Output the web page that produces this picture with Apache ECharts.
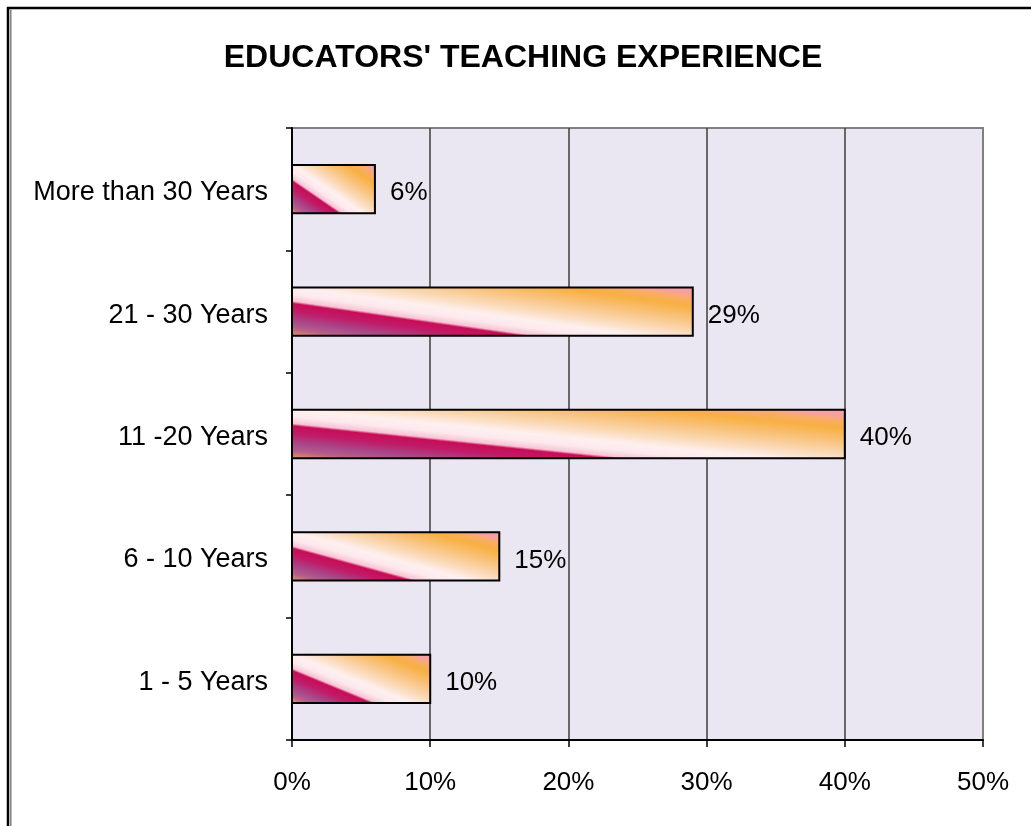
<!DOCTYPE html>
<html>
<head>
<meta charset="utf-8">
<script src="https://cdn.jsdelivr.net/npm/echarts@6/dist/echarts.min.js"></script>
<style>
  html, body { margin: 0; padding: 0; background: #fff; }
  #chart { width: 1031px; height: 826px; }
</style>
</head>
<body>
<div id="chart"></div>
<script>
// data
const chartTitle = "EDUCATORS' TEACHING EXPERIENCE";
const categories = ['1 - 5 Years', '6 - 10 Years', '11 -20 Years', '21 - 30 Years', 'More than 30 Years'];
const percentages = [10, 15, 40, 29, 6];
const axisMin = 0;
const axisMax = 50;
const tickStep = 10;

const FONT = '"Liberation Sans", Arial, sans-serif';

// "fire" style fill, diagonal from bottom-left to top-right of each bar
const barFill = new echarts.graphic.LinearGradient(0, 1, 1, 0.15, [
  { offset: 0, color: '#E29A58' },
  { offset: 0.07, color: '#B8608A' },
  { offset: 0.15, color: '#A8488A' },
  { offset: 0.25, color: '#C01C68' },
  { offset: 0.33, color: '#C80C58' },
  { offset: 0.355, color: '#F8C4D4' },
  { offset: 0.42, color: '#FDE8EE' },
  { offset: 0.5, color: '#FEF0F0' },
  { offset: 0.62, color: '#FAD8B4' },
  { offset: 0.75, color: '#F9C27C' },
  { offset: 0.88, color: '#F7B042' },
  { offset: 0.97, color: '#F8AC6A' },
  { offset: 1, color: '#F8A0A0' }
]);

const chart = echarts.init(document.getElementById('chart'));

function renderBar(params, api) {
  const v = api.value(0);
  const c = api.value(1);
  const p0 = api.coord([0, c]);
  const p1 = api.coord([v, c]);
  const barH = api.size([0, 1])[1] * 0.395;
  const x0 = p0[0];
  const y0 = p0[1] - barH / 2;
  const w = p1[0] - p0[0];
  return {
    type: 'group',
    children: [
      {
        // unit square scaled up, so the gradient follows the bar's own box
        type: 'rect',
        shape: { x: 0, y: 0, width: 100, height: 100 },
        x: x0, y: y0,
        scaleX: w / 100, scaleY: barH / 100,
        style: { fill: barFill }
      },
      {
        type: 'rect',
        shape: { x: x0, y: y0, width: w, height: barH },
        style: { fill: 'none', stroke: '#000', lineWidth: 2 }
      },
      {
        type: 'text',
        x: p1[0] + 15, y: p1[1] + 4,
        style: {
          text: v + '%',
          font: '26px ' + FONT,
          fill: '#000',
          textVerticalAlign: 'middle'
        }
      }
    ]
  };
}

chart.setOption({
  animation: false,
  backgroundColor: '#fff',
  graphic: [
    { type: 'line', shape: { x1: 7, y1: 8, x2: 1031, y2: 8 }, style: { stroke: '#000', lineWidth: 2.5 } },
    { type: 'line', shape: { x1: 8, y1: 7, x2: 8, y2: 826 }, style: { stroke: '#000', lineWidth: 2.5 } },
    { type: 'line', shape: { x1: 10.8, y1: 9.5, x2: 10.8, y2: 826 }, style: { stroke: '#808080', lineWidth: 1.5 } },
    {
      type: 'text', x: 523, y: 58,
      style: {
        text: chartTitle,
        font: 'bold 32px ' + FONT,
        fill: '#000',
        textAlign: 'center',
        textVerticalAlign: 'middle'
      }
    }
  ],
  grid: {
    left: 292, right: 48, top: 128, bottom: 86,
    show: true,
    backgroundColor: '#EAE7F2',
    borderColor: '#808080',
    borderWidth: 2
  },
  xAxis: {
    type: 'value',
    min: axisMin, max: axisMax, interval: tickStep,
    axisLine: { show: true, lineStyle: { color: '#000', width: 2 } },
    axisTick: { show: true, length: 7, lineStyle: { color: '#000', width: 1.5 } },
    axisLabel: { formatter: '{value}%', fontSize: 26, fontFamily: FONT, color: '#000', margin: 30 },
    splitLine: {
      show: true,
      lineStyle: { color: ['#3c3c3c', '#3c3c3c', '#3c3c3c', '#3c3c3c', '#3c3c3c', '#808080'], width: 1.5 }
    }
  },
  yAxis: {
    type: 'category',
    data: categories,
    axisLine: { show: true, lineStyle: { color: '#000', width: 2 } },
    axisTick: { show: true, length: 6, lineStyle: { color: '#000', width: 1.5 } },
    axisLabel: {
      margin: 24,
      formatter: v => '{c|' + v + '}',
      rich: { c: { fontSize: 27, fontFamily: FONT, color: '#000', padding: [7, 0, 0, 0] } }
    },
    splitLine: { show: false }
  },
  series: [{
    type: 'custom',
    renderItem: renderBar,
    encode: { x: 0, y: 1 },
    data: percentages.map((v, i) => [v, i])
  }]
});
</script>
</body>
</html>
